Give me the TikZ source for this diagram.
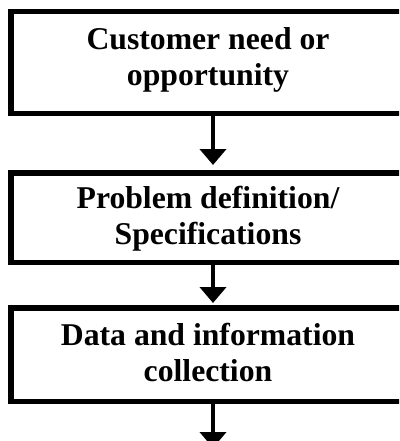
\documentclass[tikz,border=0pt]{standalone}
\usepackage{fontspec}
\setmainfont{Liberation Serif}
\usetikzlibrary{arrows.meta}
\begin{document}
\begin{tikzpicture}[x=1pt,y=-1pt,
  box/.style={draw,line width=5.5pt,minimum width=394pt,inner sep=0pt},
  lbl/.style={font=\fontsize{31.7}{36}\selectfont\bfseries,align=center,inner sep=0pt},
  arr/.style={line width=4pt,-{Triangle[width=26pt,length=16pt]}}]
\useasboundingbox (0,0) rectangle (399,441);
\clip (0,0) rectangle (399,441);
\node[box,minimum height=101.75pt] (b1) at (208,62.6) {};
\node[box,minimum height=89.5pt] (b2) at (208,217.5) {};
\node[box,minimum height=93.5pt] (b3) at (208,354.5) {};
\node[lbl] (t1) at (208,59.5) {Customer need or\\opportunity};
\node[lbl] (t2) at (208,219) {Problem definition/\\Specifications};
\node[lbl] (t3) at (208,352) {Data and information\\collection};
\coordinate (c4) at (213,448);
\draw[arr,shorten >=5pt] ([xshift=5pt]b1.south) -- ([xshift=5pt]b2.north);
\draw[arr,shorten >=2pt] ([xshift=5pt]b2.south) -- ([xshift=5pt]b3.north);
\draw[arr] ([xshift=5pt]b3.south) -- (c4);
\end{tikzpicture}
\end{document}
